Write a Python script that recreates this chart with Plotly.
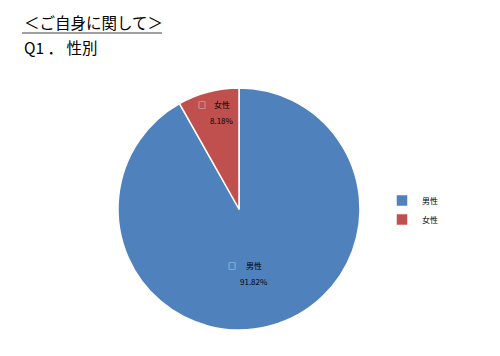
import plotly.graph_objects as go

labels = ["男性", "女性"]
values = [91.82, 8.18]
colors = ["#4F81BD", "#C0504D"]
title_main = "＜ご自身に関して＞"
title_sub = "Q1 ． 性別"

font = "Noto Sans CJK JP"
W, H = 500, 356
OX, OY = 8, 8  # page offset of the plot div


def px(x):
    return (x - OX) / W


def py(y):
    return 1 - (y - OY) / H


fig = go.Figure()
fig.add_trace(go.Pie(
    labels=labels,
    values=values,
    sort=False,
    direction="clockwise",
    rotation=0,
    marker=dict(colors=colors, line=dict(color="white", width=1.5)),
    textinfo="none",
    hoverinfo="label+percent",
    domain=dict(x=[px(118), px(360)], y=[py(330), py(88)]),
))

# in-slice label positions (page pixels) for each category
label_pos = {"男性": (254, 265, 281, 232), "女性": (222, 104, 120, 202)}

annotations = [
    dict(text=title_main, x=px(22), y=py(22), xref="paper", yref="paper",
         xanchor="left", yanchor="middle", showarrow=False,
         font=dict(family=font, size=15.5, color="black")),
    dict(text=title_sub, x=px(22), y=py(47), xref="paper", yref="paper",
         xanchor="left", yanchor="middle", showarrow=False,
         font=dict(family=font, size=15.5, color="black")),
]
for lab, val in zip(labels, values):
    cx, ly, vy, sx = label_pos[lab]
    annotations.append(dict(text=lab, x=px(cx), y=py(ly), xref="paper", yref="paper",
                            xanchor="center", yanchor="middle", showarrow=False,
                            font=dict(family=font, size=8, color="black")))
    annotations.append(dict(text=f"{val:.2f}%", x=px(cx), y=py(vy), xref="paper", yref="paper",
                            xanchor="center", yanchor="middle", showarrow=False,
                            font=dict(family=font, size=8, color="black")))
    annotations.append(dict(text="□", x=px(sx), y=py(ly), xref="paper", yref="paper",
                            xanchor="center", yanchor="middle", showarrow=False,
                            font=dict(family=font, size=8, color="white")))

fig.update_layout(
    width=W, height=H,
    margin=dict(l=0, r=0, t=0, b=0),
    paper_bgcolor="white",
    plot_bgcolor="white",
    font=dict(family=font, color="black"),
    showlegend=True,
    legend=dict(x=px(382), y=py(210), xanchor="left", yanchor="middle",
                font=dict(family=font, size=8, color="black"),
                itemwidth=30, tracegroupgap=0),
    annotations=annotations,
    shapes=[
        dict(type="line", xref="paper", yref="paper",
             x0=px(22), x1=px(162), y0=py(33), y1=py(33),
             line=dict(color="#808080", width=1.5)),
    ],
)

fig.write_html("out.html")
